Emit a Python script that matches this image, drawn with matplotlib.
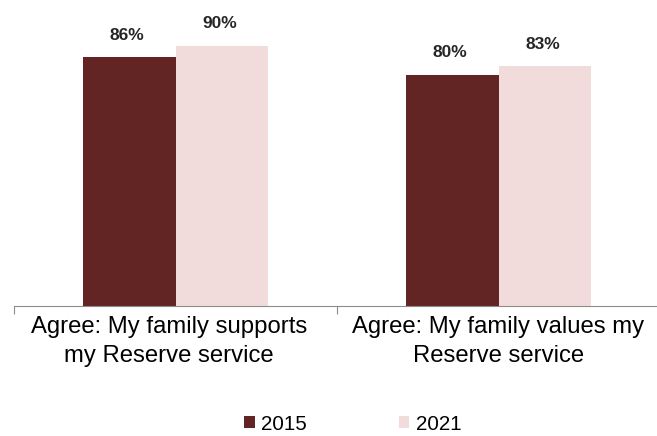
import matplotlib.pyplot as plt
import numpy as np

# survey results, percent agreeing
categories = ["Agree: My family supports\nmy Reserve service",
              "Agree: My family values my\nReserve service"]
years = ["2015", "2021"]
values_2015 = [86, 80]
values_2021 = [90, 83]
colors = ["#632523", "#F2DCDB"]

plt.rcParams['font.family'] = ['Liberation Sans', 'DejaVu Sans']

fig = plt.figure(figsize=(6.57, 4.36), dpi=100)
ax = fig.add_axes([14 / 657, 130 / 436, 646 / 657, 289 / 436])

x = np.arange(len(categories))
width = 0.286

bars_a = ax.bar(x - width / 2, values_2015, width, color=colors[0], label=years[0])
bars_b = ax.bar(x + width / 2, values_2021, width, color=colors[1], label=years[1])

# value labels above each bar
for bars in (bars_a, bars_b):
    for b in bars:
        ax.annotate("{}%".format(int(b.get_height())),
                    (b.get_x() + b.get_width() / 2, b.get_height()),
                    xytext=(-1.5, 10.5), textcoords="offset points",
                    ha="center", va="bottom", fontsize=12.5, fontweight="bold",
                    color="#262626")

ax.set_xlim(-0.5, 1.5)
ax.set_ylim(0, 100)
ax.set_yticks([])
for side in ("top", "right", "left"):
    ax.spines[side].set_visible(False)
ax.spines["bottom"].set_color("#8c8c8c")

# tick marks at category boundaries, labels centred between them
ax.set_xticks([-0.5, 0.5, 1.5])
ax.set_xticklabels([])
ax.tick_params(axis="x", length=6, color="#8c8c8c", direction="out")
for i, cat in enumerate(categories):
    ax.text(i - 0.02 * (1 - i), -3.3, cat, ha="center", va="top", fontsize=17.2,
            linespacing=1.45, color="#000000")

fig.legend(loc="lower center", bbox_to_anchor=(0.537, -0.037), ncol=2,
           frameon=False, fontsize=14.8, handlelength=0.5,
           handleheight=0.5, handletextpad=0.3, columnspacing=4.5)

fig.savefig("out.png", dpi=100)
